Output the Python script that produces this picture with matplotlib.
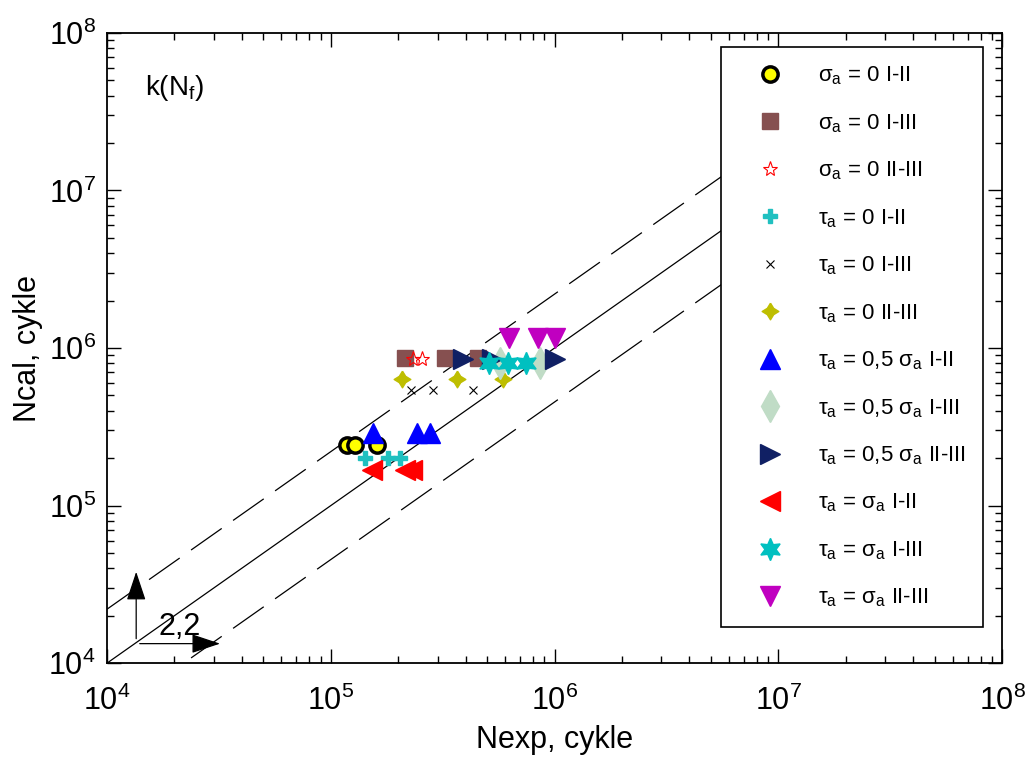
import matplotlib
matplotlib.use('Agg')
import matplotlib.pyplot as plt
import numpy as np

plt.rcParams['font.family'] = ['Liberation Sans', 'DejaVu Sans']
plt.rcParams['lines.scale_dashes'] = False

# data: (Nexp, Ncal)
sig0_12_x = [1.18e5, 1.28e5, 1.60e5]
sig0_12_y = [2.42e5, 2.42e5, 2.42e5]
sig0_13_x = [2.15e5, 3.24e5, 4.55e5]
sig0_13_y = [8.7e5, 8.7e5, 8.7e5]
sig0_23_x = [2.34e5, 2.55e5]
sig0_23_y = [8.5e5, 8.5e5]
tau0_12_x = [1.42e5, 1.81e5, 2.04e5]
tau0_12_y = [2.0e5, 2.0e5, 2.0e5]
tau0_13_x = [2.28e5, 2.86e5, 4.34e5]
tau0_13_y = [5.4e5, 5.4e5, 5.4e5]
tau0_23_x = [2.09e5, 3.66e5, 5.85e5]
tau0_23_y = [6.4e5, 6.4e5, 6.4e5]
half_12_x = [1.55e5, 2.42e5, 2.78e5]
half_12_y = [2.87e5, 2.87e5, 2.87e5]
half_13_x = [5.7e5, 8.6e5]
half_13_y = [8.0e5, 8.0e5]
half_23_x = [3.91e5, 5.24e5, 1.0e6]
half_23_y = [8.5e5, 8.5e5, 8.5e5]
eq_12_x = [1.53e5, 2.15e5, 2.30e5]
eq_12_y = [1.68e5, 1.68e5, 1.68e5]
eq_13_x = [5.09e5, 6.21e5, 7.43e5]
eq_13_y = [8.0e5, 8.0e5, 8.0e5]
eq_23_x = [6.28e5, 8.47e5, 1.0e6]
eq_23_y = [1.15e6, 1.15e6, 1.15e6]

scatter_factor = 2.2
n_line = np.array([1e4, 1e7])

fat4 = [(0, 1), (0.38, 0.38), (1, 0), (0.38, -0.38), (0, -1), (-0.38, -0.38), (-1, 0), (-0.38, 0.38), (0, 1)]

fig = plt.figure(figsize=(10.29, 7.64), dpi=100)
ax = fig.add_axes([0.104, 0.132, 0.870, 0.825])

ax.plot(n_line, n_line, color='black', lw=0.9)
ax.plot(n_line, n_line * scatter_factor, color='black', lw=0.9, dashes=(27, 10))
ax.plot(n_line, n_line / scatter_factor, color='black', lw=0.9, dashes=(27, 10))

sig = '\u03c3$_\\mathregular{a}$'
tau = '\u03c4$_\\mathregular{a}$'

ax.plot(sig0_12_x, sig0_12_y, 'o', ms=11, mfc='yellow', mec='black', mew=2.5, ls='none', label=sig + ' = 0 I-II')
ax.plot(sig0_13_x, sig0_13_y, 's', ms=12, color='#865050', ls='none', label=sig + ' = 0 I-III')
ax.plot(sig0_23_x, sig0_23_y, '*', ms=11, mfc='none', mec='red', mew=0.8, ls='none', label=sig + ' = 0 II-III')
ax.plot(tau0_12_x, tau0_12_y, 'P', ms=10, color='#20C0C0', ls='none', label=tau + ' = 0 I-II')
ax.plot(tau0_13_x, tau0_13_y, 'x', ms=6, color='black', mew=0.8, ls='none', label=tau + ' = 0 I-III')
ax.plot(tau0_23_x, tau0_23_y, marker=fat4, ms=12, color='#BEBE00', ls='none', label=tau + ' = 0 II-III')
ax.plot(half_12_x, half_12_y, '^', ms=15, color='blue', ls='none', label=tau + ' = 0,5 ' + sig + ' I-II')
ax.plot(half_13_x, half_13_y, 'd', ms=16, color='#C0DCC6', ls='none', label=tau + ' = 0,5 ' + sig + ' I-III')
ax.plot(half_23_x, half_23_y, '>', ms=15, color='#102064', ls='none', label=tau + ' = 0,5 ' + sig + ' II-III')
ax.plot(eq_12_x, eq_12_y, '<', ms=15, color='red', ls='none', label=tau + ' = ' + sig + ' I-II')
ax.plot(eq_13_x, eq_13_y, marker=(6, 1, 0), ms=16, color='#00C0C0', ls='none', label=tau + ' = ' + sig + ' I-III')
ax.plot(eq_23_x, eq_23_y, 'v', ms=15, color='#C000C0', ls='none', label=tau + ' = ' + sig + ' II-III')

ax.set_xscale('log')
ax.set_yscale('log')
ax.set_xlim(1e4, 1e8)
ax.set_ylim(1e4, 1e8)

ax.xaxis.set_major_formatter(plt.FuncFormatter(lambda v, p: '10$^\\mathregular{%d}$' % round(np.log10(v))))
ax.yaxis.set_major_formatter(plt.FuncFormatter(lambda v, p: '10$^\\mathregular{%d}$' % round(np.log10(v))))
ax.tick_params(which='both', direction='in', top=True, right=True, width=1)
ax.tick_params(which='major', length=10)
ax.tick_params(which='minor', length=5)
ax.tick_params(axis='x', which='major', labelsize=22, pad=16)
ax.tick_params(axis='y', which='major', labelsize=22, pad=8)
for s in ax.spines.values():
    s.set_linewidth(1.3)

ax.set_xlabel('Nexp, cykle', fontsize=22, labelpad=6)
ax.set_ylabel('Ncal, cykle', fontsize=22)

ax.text(1.48e4, 4.03e7, 'k(N$_\\mathregular{f}$)', fontsize=20, va='baseline')

# 2,2 scatter band arrows
arrow = dict(arrowstyle='-|>,head_length=0.9,head_width=0.3', color='black', lw=0.9,
             mutation_scale=20, shrinkA=0, shrinkB=0)
ax.annotate('', xy=(1.35e4, 3.8e4), xytext=(1.35e4, 1.43e4), arrowprops=arrow)
ax.annotate('', xy=(3.2e4, 1.33e4), xytext=(1.40e4, 1.33e4), arrowprops=arrow)
ax.text(2.12e4, 1.69e4, '2,2', fontsize=22, ha='center', va='center')

leg = ax.legend(loc='upper right', bbox_to_anchor=(0.979, 0.978), fontsize=16,
                labelspacing=1.12, handlelength=2.8, handletextpad=0.77, borderpad=0.8,
                borderaxespad=0, fancybox=False, edgecolor='black', framealpha=1, numpoints=1)
leg.get_frame().set_linewidth(1.2)

fig.savefig('out.png', dpi=100)
